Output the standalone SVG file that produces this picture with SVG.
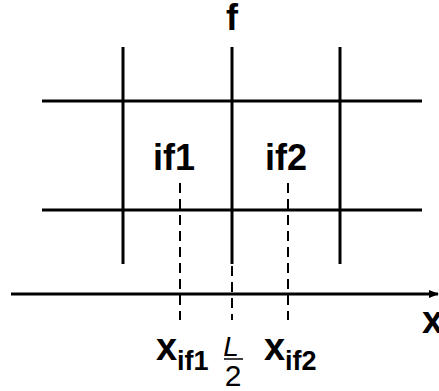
<svg xmlns="http://www.w3.org/2000/svg" width="439" height="391" viewBox="0 0 439 391">
<defs>
<style>
.ln{stroke:#000;stroke-width:3;fill:none}
.ds{stroke:#000;stroke-width:2;stroke-dasharray:10,6;fill:none}
.t{font-family:"Liberation Sans",Arial,sans-serif;font-weight:bold;fill:#000}
.it{font-family:"Liberation Sans",Arial,sans-serif;font-style:italic;fill:#000}
.n{font-family:"Liberation Sans",Arial,sans-serif;fill:#000}
</style>
<marker id="ah" markerWidth="12" markerHeight="12" refX="9" refY="5" orient="auto" markerUnits="userSpaceOnUse">
<path d="M0,1 L10,5 L0,9 Z" fill="#000"/>
</marker>
</defs>
<g id="grid">
<line class="ln" x1="123" y1="47" x2="123" y2="264"/>
<line class="ln" x1="232" y1="47" x2="232" y2="264"/>
<line class="ln" x1="340" y1="47" x2="340" y2="264"/>
<line class="ln" x1="42" y1="101" x2="422" y2="101"/>
<line class="ln" x1="42" y1="210" x2="422" y2="210"/>
</g>
<g id="connectors">
<line class="ln" x1="11" y1="294" x2="438" y2="294" stroke-width="2.5" marker-end="url(#ah)"/>
<line class="ds" x1="180" y1="183" x2="180" y2="320"/>
<line class="ds" x1="288" y1="183" x2="288" y2="320"/>
<line class="ds" x1="232" y1="266" x2="232" y2="320"/>
</g>
<g id="labels">
<text class="t" x="232" y="30" font-size="36" text-anchor="middle">f</text>
<text class="t" x="174" y="170" font-size="36" text-anchor="middle">if1</text>
<text class="t" x="286" y="170" font-size="36" text-anchor="middle">if2</text>
<text class="t" x="422" y="333" font-size="38">x</text>
<text class="t" x="156" y="360" font-size="38">x</text>
<text class="t" x="177" y="370" font-size="27">if1</text>
<text class="t" x="264" y="360" font-size="38">x</text>
<text class="t" x="285" y="370" font-size="27">if2</text>
<text class="it" x="231" y="356" font-size="28" text-anchor="middle">L</text>
<line x1="224" y1="359" x2="243" y2="359" stroke="#000" stroke-width="1.5"/>
<text class="n" x="233" y="386" font-size="30" text-anchor="middle">2</text>
</g>
</svg>
